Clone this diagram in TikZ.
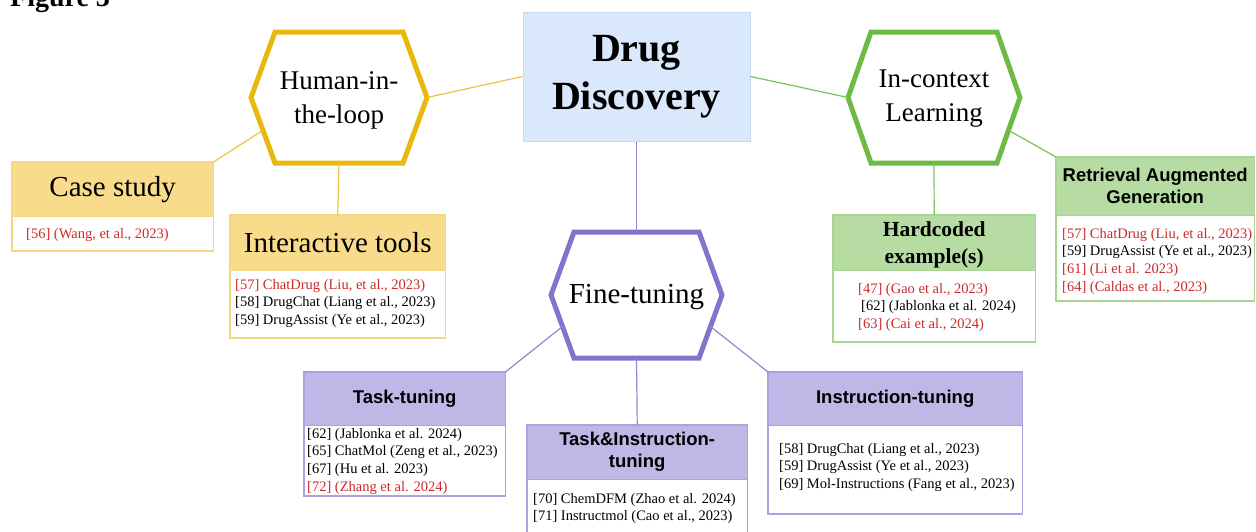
\documentclass[tikz,border=0pt]{standalone}
\usepackage{fontspec}
\setmainfont{Liberation Serif}
\setsansfont{Liberation Sans}
\definecolor{ylw}{HTML}{E8B80C}
\definecolor{ylwfill}{HTML}{F8DC8B}
\definecolor{ylwline}{HTML}{F4D77F}
\definecolor{ylwconn}{HTML}{EBC444}
\definecolor{grn}{HTML}{6DBB45}
\definecolor{grnfill}{HTML}{B6DCA3}
\definecolor{grnline}{HTML}{A9D492}
\definecolor{grnconn}{HTML}{7CC05A}
\definecolor{prp}{HTML}{8175CB}
\definecolor{prpfill}{HTML}{BFB7E6}
\definecolor{prpline}{HTML}{ABA2DE}
\definecolor{prpconn}{HTML}{9088D0}
\definecolor{bluefill}{HTML}{DAE8FC}
\definecolor{blueline}{HTML}{C8DAF2}
\definecolor{refred}{HTML}{CC2A2A}
\tikzset{
  hdrbox/.style={inner sep=0pt, align=center, text=black},
  bodybox/.style={inner sep=0pt, fill=white},
  reftext/.style={inner sep=0pt, align=left, font=\fontsize{14.5}{17.8}\selectfont, anchor=base west},
  hextext/.style={inner sep=0pt, align=center, font=\fontsize{27}{34}\selectfont},
  serifhead/.style={font=\fontsize{29}{34}\selectfont},
  sanshead/.style={font=\sffamily\bfseries\fontsize{18.5}{22}\selectfont},
  conn/.style={line width=1.2pt},
}
% name, cx, cy, hw, hh, inset, colour
\newcommand{\hexshape}[7]{%
  \draw[line width=5pt, #7, line join=miter]
    (#2-#4,#3) -- (#2-#4+#6,#3-#5) -- (#2+#4-#6,#3-#5) -- (#2+#4,#3)
    -- (#2+#4-#6,#3+#5) -- (#2-#4+#6,#3+#5) -- cycle;
  \coordinate (#1-l) at (#2-#4,#3);
  \coordinate (#1-r) at (#2+#4,#3);
  \coordinate (#1-t) at (#2,#3-#5);
  \coordinate (#1-b) at (#2,#3+#5);
  \coordinate (#1-ll) at (#2-#4+#6/2,#3+#5/2);
  \coordinate (#1-lr) at (#2+#4-#6/2,#3+#5/2);
}
% name, x, y, width, header height, body height, header style, line colour, header text
\newcommand{\catbox}[9]{%
  \node[hdrbox, #7, minimum width=#4pt, minimum height=#5pt, anchor=north west] (#1-h) at (#2,#3) {#9};
  \node[bodybox, minimum width=#4pt, minimum height=#6pt, anchor=north west] (#1-b) at (#1-h.south west) {};
  \draw[#8, line width=1.8pt] (#1-h.north west) rectangle (#1-b.south east);
  \draw[#8, line width=1pt] (#1-h.south west) -- (#1-h.south east);
}
\newcommand{\nl}{\\{}}
\begin{document}
\begin{tikzpicture}[x=1pt,y=-1pt]
\useasboundingbox (0,0) rectangle (1256,531);

\node[anchor=base west, inner sep=0pt, font=\bfseries\fontsize{28}{30}\selectfont] (fig) at (10,6) {Figure 3};

% central box
\node[fill=bluefill, draw=blueline, line width=1pt, minimum width=227pt, minimum height=129pt,
      inner sep=0pt, align=center, font=\bfseries\fontsize{40}{48}\selectfont] (dd) at (636.5,76.5) {Drug\\Discovery};

% hexagon geometry
\hexshape{hl}{339}{97.5}{88}{65.5}{24}{ylw}
\hexshape{ic}{934}{97.5}{86}{65.5}{23}{grn}
\hexshape{ft}{636.5}{295}{85.5}{63}{23}{prp}

% boxes
\catbox{cs}{12}{162}{201}{54}{34}{fill=ylwfill, serifhead}{ylwline}{Case study}
\catbox{it}{230}{215}{215}{55}{67}{fill=ylwfill, serifhead}{ylwline}{Interactive tools}
\catbox{hc}{833}{215}{202}{55}{71}{fill=grnfill, font=\bfseries\fontsize{21.5}{27}\selectfont, text depth=-2pt}{grnline}{Hardcoded\\example(s)}
\catbox{ra}{1056}{157}{198}{58}{85}{fill=grnfill, sanshead}{grnline}{Retrieval Augmented\\Generation}
\catbox{tt}{304}{372}{201}{53}{70}{fill=prpfill, sanshead}{prpline}{Task-tuning}
\catbox{ti}{527}{425}{220}{54}{70}{fill=prpfill, sanshead}{prpline}{Task\&Instruction-\\tuning}
\catbox{in}{768}{372}{254}{53}{88}{fill=prpfill, sanshead}{prpline}{Instruction-tuning}

% connectors
\draw[conn, ylwconn] (dd.west) -- (hl-r);
\draw[conn, ylwconn] (hl-ll) -- (cs-h.north east);
\draw[conn, ylwconn] (hl-b) -- (it-h.north);
\draw[conn, grnconn] (dd.east) -- (ic-l);
\draw[conn, grnconn] (ic-b) -- (hc-h.north);
\draw[conn, grnconn] (ic-lr) -- (ra-h.north west);
\draw[conn, prpconn] (dd.south) -- (ft-t);
\draw[conn, prpconn] (ft-ll) -- (tt-h.north east);
\draw[conn, prpconn] (ft-b) -- (ti-h.north);
\draw[conn, prpconn] (ft-lr) -- (in-h.north west);

% hexagon labels
\node[hextext] (hl) at (339,100) {Human-in-\\the-loop};
\node[hextext] (ic) at (934,99) {In-context\\Learning};
\node[hextext, font=\fontsize{29}{33}\selectfont] (ft) at (636.5,297) {Fine-tuning};

% references (anchor = baseline of the last line)
\node[reftext] (cs-t) at (26,238) {\textcolor{refred}{[56] (Wang, et al., 2023)}};
\node[reftext] (it-t) at (235,324.6) {\textcolor{refred}{[57] ChatDrug (Liu, et al., 2023)}\nl
  [58] DrugChat (Liang et al., 2023)\nl
  [59] DrugAssist (Ye et al., 2023)};
\node[reftext] (hc-t) at (858,328.6) {\textcolor{refred}{[47] (Gao et al., 2023)}\nl
  \hspace*{3pt}[62] (Jablonka et al. 2024)\nl
  \textcolor{refred}{[63] (Cai et al., 2024)}};
\node[reftext] (ra-t) at (1062,291.4) {\textcolor{refred}{[57] ChatDrug (Liu, et al., 2023)}\nl
  [59] DrugAssist (Ye et al., 2023)\nl
  \textcolor{refred}{[61] (Li et al. 2023)}\nl
  \textcolor{refred}{[64] (Caldas et al., 2023)}};
\node[reftext] (tt-t) at (307,491.4) {[62] (Jablonka et al. 2024)\nl
  [65] ChatMol (Zeng et al., 2023)\nl
  [67] (Hu et al. 2023)\nl
  \textcolor{refred}{[72] (Zhang et al. 2024)}};
\node[reftext] (ti-t) at (533,520.8) {[70] ChemDFM (Zhao et al. 2024)\nl
  [71] Instructmol (Cao et al., 2023)};
\node[reftext] (in-t) at (779,488.6) {[58] DrugChat (Liang et al., 2023)\nl
  [59] DrugAssist (Ye et al., 2023)\nl
  [69] Mol-Instructions (Fang et al., 2023)};
\end{tikzpicture}
\end{document}
